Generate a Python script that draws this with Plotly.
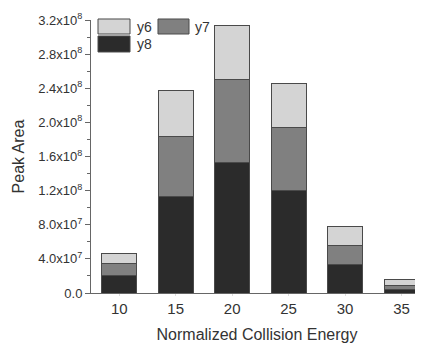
import plotly.graph_objects as go

energies = [10, 15, 20, 25, 30, 35]
y8 = [2.07e7, 1.13e8, 1.53e8, 1.20e8, 3.36e7, 4.5e6]
y7 = [1.33e7, 7.1e7, 9.75e7, 7.4e7, 2.19e7, 4.0e6]
y6 = [1.25e7, 5.3e7, 6.25e7, 5.1e7, 2.3e7, 7.0e6]

ytickvals = [0, 4e7, 8e7, 1.2e8, 1.6e8, 2.0e8, 2.4e8, 2.8e8, 3.2e8]
yticktext = ["0.0", "4.0x10<sup>7</sup>", "8.0x10<sup>7</sup>", "1.2x10<sup>8</sup>",
             "1.6x10<sup>8</sup>", "2.0x10<sup>8</sup>", "2.4x10<sup>8</sup>",
             "2.8x10<sup>8</sup>", "3.2x10<sup>8</sup>"]

series = [("y8", y8, "#2b2b2b"), ("y7", y7, "#808080"), ("y6", y6, "#d4d4d4")]

fig = go.Figure()
for name, vals, col in series:
    fig.add_trace(go.Bar(x=energies, y=vals, name=name, width=3.1,
                         marker=dict(color=col, line=dict(color="#4a4a4a", width=1)),
                         showlegend=False))

font = "Liberation Sans, Arial, sans-serif"
fig.update_layout(
    barmode="stack",
    width=415, height=336,
    margin=dict(l=83, r=0, t=12, b=51),
    plot_bgcolor="white", paper_bgcolor="white",
    font=dict(family=font, color="#333333", size=14),
    xaxis=dict(range=[7.5, 36.9], tickvals=energies, ticktext=[str(e) for e in energies],
               showline=True, linecolor="#666666", linewidth=1, showgrid=False, zeroline=False,
               ticks="outside", ticklen=2, tickcolor="#dddddd",
               tickfont=dict(size=15, color="#333333"),
               title=dict(text="Normalized Collision Energy", font=dict(size=16, color="#333333"), standoff=12)),
    yaxis=dict(range=[0, 3.2e8], tickvals=ytickvals, ticktext=yticktext,
               showline=True, linecolor="#666666", linewidth=1, showgrid=False, zeroline=False,
               ticks="outside", ticklen=5, tickcolor="#666666",
               minor=dict(ticks="outside", ticklen=3, tickcolor="#666666", tickvals=[2e7, 6e7, 1e8, 1.4e8, 1.8e8, 2.2e8, 2.6e8, 3.0e8]),
               tickfont=dict(size=13, color="#333333"),
               title=dict(text="Peak Area", font=dict(size=16, color="#333333"), standoff=9)),
)

# manual legend
legend_items = [("y6", "#d4d4d4", 0.0211, 0.1175, 0.9487, 1.0037, 0.1325, 0.976),
                ("y7", "#808080", 0.2018, 0.2952, 0.9487, 1.0037, 0.307, 0.976),
                ("y8", "#2b2b2b", 0.0211, 0.1175, 0.8828, 0.9414, 0.1325, 0.912)]
for name, col, x0, x1, y0, y1, tx, ty in legend_items:
    fig.add_shape(type="rect", xref="paper", yref="paper", x0=x0, x1=x1, y0=y0, y1=y1,
                  fillcolor=col, line=dict(color="#4a4a4a", width=1))
    fig.add_annotation(xref="paper", yref="paper", x=tx, y=ty, text=name, showarrow=False,
                       xanchor="left", yanchor="middle", font=dict(size=14, color="#333333"))

fig.write_html("out.html")
